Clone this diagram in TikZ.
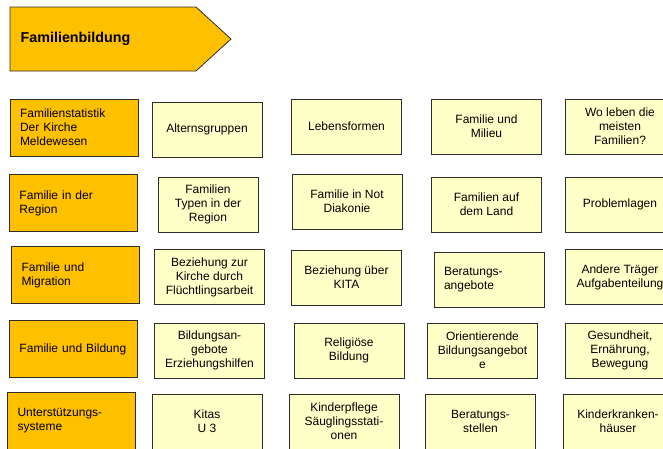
\documentclass[tikz,border=0pt]{standalone}
\usepackage{fontspec}
\setmainfont{Liberation Sans}
\usepackage{tikz}
\usetikzlibrary{positioning}
\definecolor{topiccolor}{RGB}{255, 192, 0}
\definecolor{itemcolor}{RGB}{255, 255, 200}
\definecolor{framecolor}{RGB}{45, 45, 45}

\begin{document}
\begin{tikzpicture}[
    x=1pt, y=-1pt,
    titlebox/.style={draw=framecolor, fill=topiccolor, line width=0.8pt},
    topic/.style={draw=framecolor, fill=topiccolor, line width=0.8pt, minimum height=57pt, text width=108pt, inner xsep=10pt, align=left, font=\fontsize{12}{14}\selectfont},
    item/.style={draw=framecolor, fill=itemcolor, line width=0.8pt, minimum width=110pt, minimum height=55pt, inner xsep=2pt, align=center, font=\fontsize{12}{14}\selectfont},
    itemleft/.style={item, text width=90pt, inner xsep=10pt, align=left}
]
    \useasboundingbox (0,0) rectangle (663,448);

    % Title
    \draw[titlebox] (10,7) -- (196,7) -- (231,39) -- (196,71) -- (10,71) -- cycle;
    \node[anchor=west, inner sep=0pt, font=\fontsize{14.3}{17}\selectfont\bfseries] (title) at (20.5,39) {Familienbildung};

    % Topics
    \node[topic] (statistik) at (74,127.5) {Familienstatistik\\Der Kirche\\Meldewesen};
    \node[topic] (region) at (73.5,203) {Familie in der\\Region};
    \node[topic] (migration) at (75.5,275) {Familie und\\Migration};
    \node[topic] (bildung) at (73.5,349) {Familie und Bildung};
    \node[topic] (hilfe) at (71.5,420.5) {Unterstützungs-\\systeme};

    % Row 1
    \node[item] (alter) at (207,129.5) {Alternsgruppen};
    \node[item] (lebensform) at (346.5,126.5) {Lebensformen};
    \node[item] (milieu) at (486.5,126.5) {Familie und\\Milieu};
    \node[item] (wo) at (620,126.5) {Wo leben die\\meisten\\Familien?};

    % Row 2
    \node[item, minimum width=100pt] (typen) at (208,204.5) {Familien\\Typen in der\\Region};
    \node[item] (not) at (347,201.5) {Familie in Not\\Diakonie};
    \node[item] (land) at (486.5,204.5) {Familien auf\\dem Land};
    \node[item] (probleme) at (620,204.5) {Problemlagen};

    % Row 3
    \node[item] (fluecht) at (209.5,277) {Beziehung zur\\Kirche durch\\Flüchtlingsarbeit};
    \node[item] (kita) at (346.5,277.5) {Beziehung über\\KITA};
    \node[itemleft] (beratung) at (489,279.5) {Beratungs-\\angebote};
    \node[item] (traeger) at (620,277) {Andere Träger\\Aufgabenteilung};

    % Row 4
    \node[item] (angebote) at (209.5,350.5) {Bildungsan-\\gebote\\Erziehungshilfen};
    \node[item] (religion) at (349,350.5) {Religiöse\\Bildung};
    \node[item] (orient) at (482.5,350.5) {Orientierende\\Bildungsangebot\\e};
    \node[item] (gesund) at (620,350.5) {Gesundheit,\\Ernährung,\\Bewegung};

    % Row 5
    \node[item] (kitas) at (207,421.5) {Kitas\\U 3};
    \node[item] (pflege) at (344,421.5) {Kinderpflege\\Säuglingsstati-\\onen};
    \node[item] (stellen) at (480.5,421.5) {Beratungs-\\stellen};
    \node[item] (klinik) at (618,421.5) {Kinderkranken-\\häuser};

\end{tikzpicture}
\end{document}
